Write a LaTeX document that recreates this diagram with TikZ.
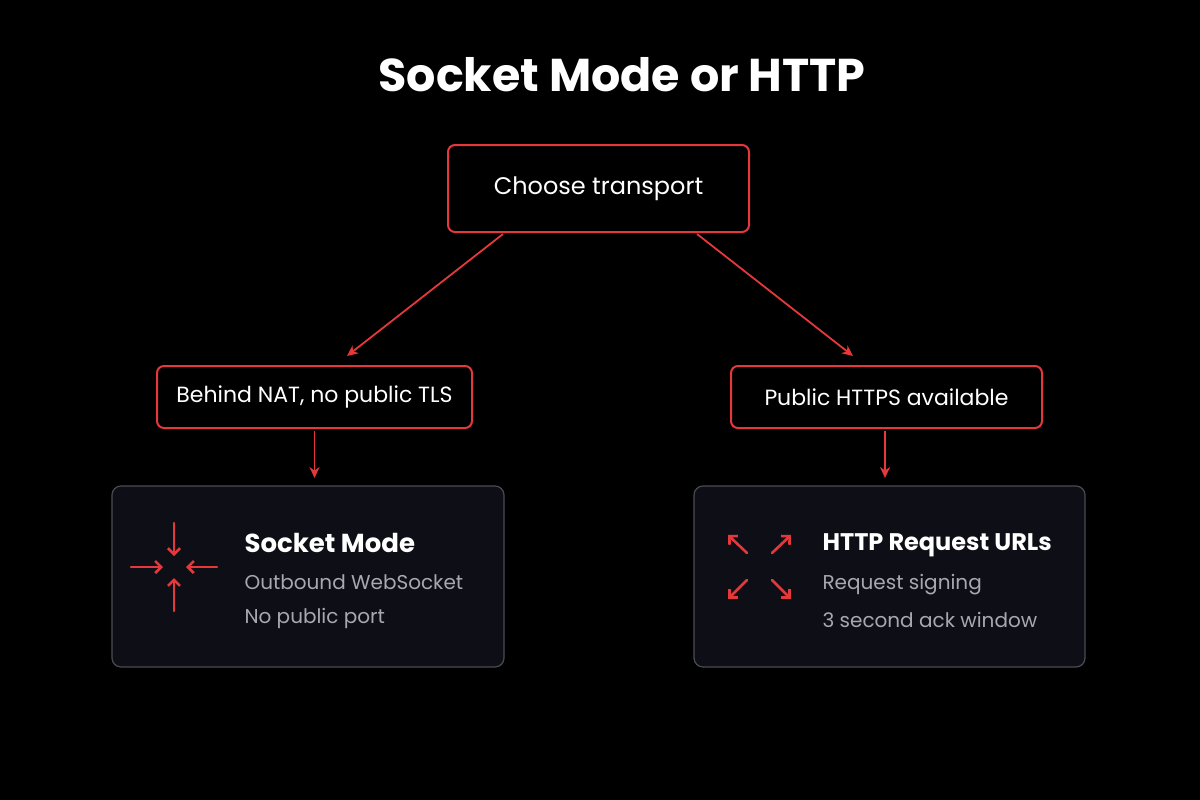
\documentclass[tikz,border=0pt]{standalone}
\usepackage{fontspec}
\setmainfont{Poppins}
\usetikzlibrary{arrows.meta}
\definecolor{rd}{HTML}{E5383B}
\definecolor{cardbg}{HTML}{0E0E16}
\definecolor{cardln}{HTML}{4A4A52}
\definecolor{sub}{HTML}{A8A8AE}
\begin{document}
\begin{tikzpicture}[x=1pt,y=-1pt,
  box/.style={draw=rd,line width=2pt,rounded corners=7pt,fill=black,text=white},
  card/.style={draw=cardln,line width=1.2pt,rounded corners=9pt,fill=cardbg},
  conn/.style={draw=rd,line width=1.8pt,-{Stealth[length=11pt,width=10pt]}},
  ic/.style={draw=rd,line width=2.6pt,line cap=round,-{Straight Barb[length=6pt,width=12pt,line width=2.6pt]}}]
\fill[black] (0,0) rectangle (1200,800);
\useasboundingbox (0,0) rectangle (1200,800);
\node[text=white,font=\fontsize{46}{52}\selectfont\bfseries] (title) at (622,75) {Socket Mode or HTTP};
\node[box,minimum width=301pt,minimum height=87pt,font=\fontsize{24}{28}\selectfont] (choose) at (598.5,188.5) {Choose transport};
\node[box,minimum width=315pt,minimum height=62pt,font=\fontsize{22}{26}\selectfont] (nat) at (314.5,397) {Behind NAT, no public TLS};
\node[box,minimum width=311pt,minimum height=62pt,font=\fontsize{22}{26}\selectfont] (pub) at (886.5,397) {Public HTTPS available};
\node[card,minimum width=392pt,minimum height=181pt] (sm) at (308,576.5) {};
\node[card,minimum width=391pt,minimum height=181pt] (hr) at (889.5,576.5) {};
\coordinate (c1) at (503,234); \coordinate (e1) at (347,356);
\coordinate (c2) at (697,234); \coordinate (e2) at (853,356);
\draw[conn] (c1) -- (e1);
\draw[conn] (c2) -- (e2);
\draw[conn] (nat.south) ++(0,2) -- (314.5,478) coordinate (d1);
\draw[conn] (pub.south) ++(-1.5,2) -- (885,478) coordinate (d2);
% socket icon
\draw[ic] (174,523) -- (174,556);
\draw[ic] (174,611) -- (174,578);
\draw[ic] (131,567) -- (163,567);
\draw[ic] (217,567) -- (186,567);
\node[anchor=west,text=white,font=\fontsize{26}{30}\selectfont\bfseries] (smt) at (241,543) {Socket Mode};
\node[anchor=west,text=sub,font=\fontsize{20}{24}\selectfont] (sm1) at (241,582) {Outbound WebSocket};
\node[anchor=west,text=sub,font=\fontsize{20}{24}\selectfont] (sm2) at (241,618) {No public port};
% http icon
\draw[ic] (747,553) -- (728,535);
\draw[ic] (772,553) -- (791,535);
\draw[ic] (747,580) -- (728,599);
\draw[ic] (772,580) -- (791,599);
\node[anchor=west,text=white,font=\fontsize{24}{28}\selectfont\bfseries] (hrt) at (819,545) {HTTP Request URLs};
\node[anchor=west,text=sub,font=\fontsize{20}{24}\selectfont] (hr1) at (819,585) {Request signing};
\node[anchor=west,text=sub,font=\fontsize{20}{24}\selectfont] (hr2) at (819,620) {3 second ack window};
\end{tikzpicture}
\end{document}
